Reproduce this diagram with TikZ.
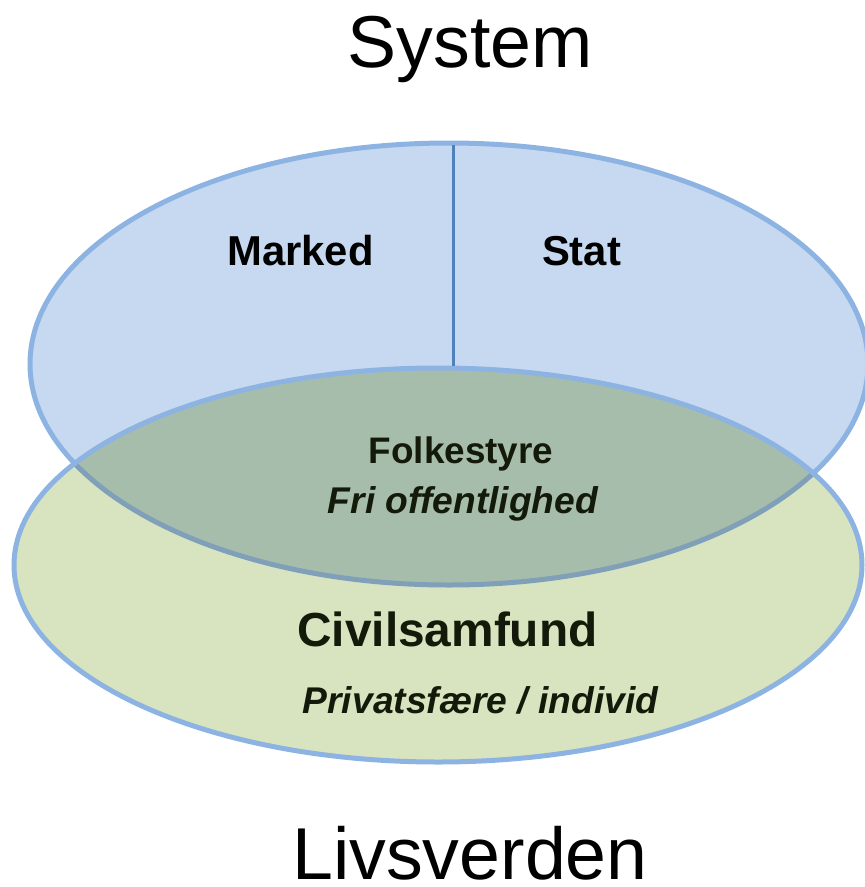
\documentclass[tikz,border=0pt]{standalone}
\usepackage{fontspec}
\setmainfont{Liberation Sans}
\definecolor{topfill}{RGB}{198,217,240}
\definecolor{edgeblue}{RGB}{141,179,226}
\definecolor{linedark}{RGB}{79,129,189}
\definecolor{lowfill}{RGB}{216,228,192}
\definecolor{overfill}{RGB}{166,189,171}
\definecolor{mutedge}{RGB}{128,160,186}
\definecolor{textdark}{RGB}{20,26,10}
\tikzset{
  bigtitle/.style={anchor=base, font=\fontsize{73.5}{80}\selectfont, text=black, inner sep=0pt, text depth=0pt},
  partlabel/.style={anchor=base, font=\fontsize{41.8}{45}\bfseries\selectfont, text=black, inner sep=0pt},
  midlabel/.style={anchor=base, font=\fontsize{36.9}{40}\bfseries\selectfont, text=textdark, inner sep=0pt},
}
\begin{document}
\begin{tikzpicture}[x=1pt,y=-1pt]
\useasboundingbox (0,0) rectangle (865,887);
% top ellipse (System)
\fill[topfill] (449,364) ellipse [x radius=419pt, y radius=221pt];
\draw[edgeblue, line width=5pt] (449,364) ellipse [x radius=419pt, y radius=221pt];
% lower ellipse (Livsverden)
\fill[lowfill] (438,565) ellipse [x radius=424pt, y radius=197pt];
\begin{scope}
  \clip (449,364) ellipse [x radius=419pt, y radius=221pt];
  \fill[overfill] (438,565) ellipse [x radius=424pt, y radius=197pt];
\end{scope}
\begin{scope}
  \clip (438,565) ellipse [x radius=424pt, y radius=197pt];
  \draw[mutedge, line width=5pt] (449,364) ellipse [x radius=419pt, y radius=221pt];
\end{scope}
\draw[edgeblue, line width=5pt] (438,565) ellipse [x radius=424pt, y radius=197pt];
% divider
\coordinate (divtop) at (453,145);
\coordinate (divbot) at (453,366);
\draw[linedark, line width=3pt] (divtop) -- (divbot);
% texts
\node[bigtitle] (system) at (470,67) {System};
\node[bigtitle] (livs) at (470,879) {Livsverden};
\node[partlabel] (marked) at (300.5,265) {Marked};
\node[partlabel] (stat) at (581.5,265) {Stat};
\node[midlabel] (folk) at (461,463) {Folkestyre};
\node[midlabel, font=\fontsize{37.2}{40}\bfseries\itshape\selectfont] (fri) at (463,513) {Fri offentlighed};
\node[anchor=base, inner sep=0pt, text=textdark, font=\fontsize{47.8}{50}\bfseries\selectfont] (civil) at (447.5,646) {Civilsamfund};
\node[anchor=base, inner sep=0pt, text=textdark, font=\fontsize{37.2}{40}\bfseries\itshape\selectfont] (priv) at (480.5,713) {Privatsfære / individ};
\end{tikzpicture}
\end{document}
